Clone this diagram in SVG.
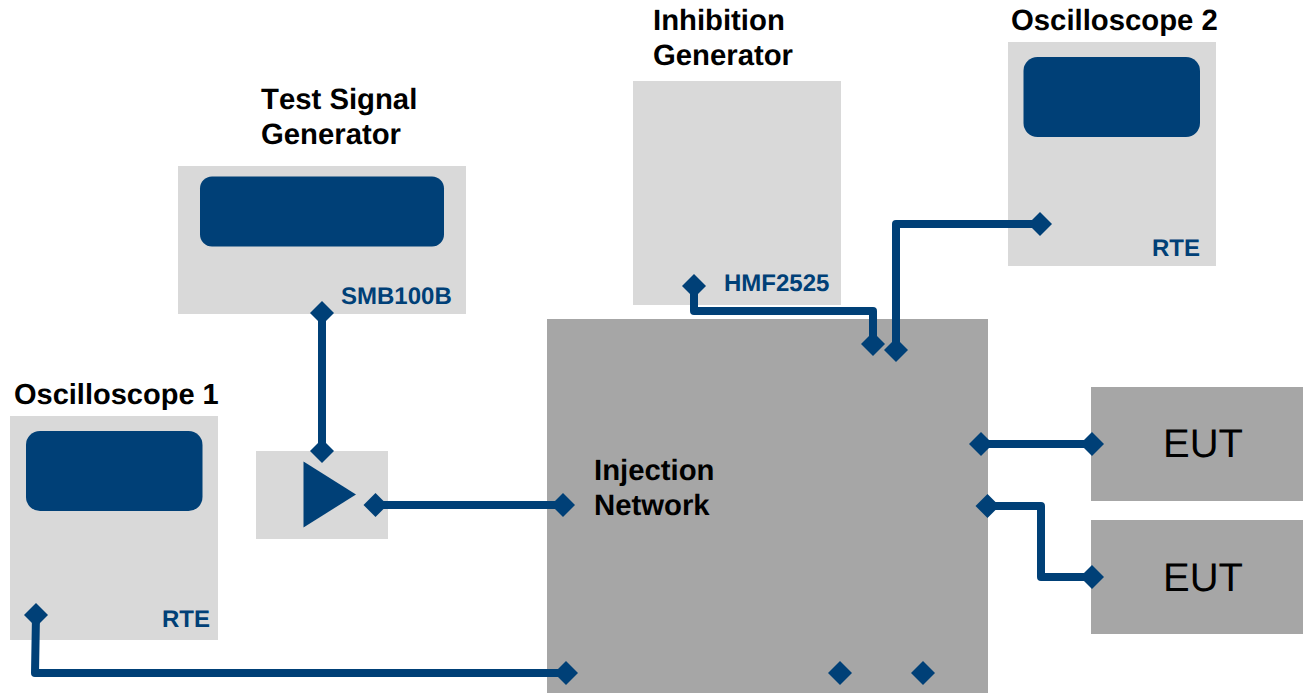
<svg xmlns="http://www.w3.org/2000/svg" width="1303" height="693" viewBox="0 0 1303 693">
<style>
.light{fill:#d9d9d9}
.mid{fill:#a6a6a6}
.blue{fill:#004077}
text{font-family:"Liberation Sans",Arial,sans-serif;text-rendering:geometricPrecision}
.title{font-size:29.300px;font-weight:700;fill:#000}
.model{font-size:24px;font-weight:700;fill:#004077}
.eut{font-size:40px;fill:#000}
.wire{fill:none;stroke:#004077;stroke-width:8px;stroke-linejoin:round;stroke-linecap:butt}
</style>
<defs>
<path id="d" class="blue" d="M0-12L12 0L0 12L-12 0Z"/>
</defs>
<rect width="1303" height="693" fill="#fff"/>
<g id="test-signal-generator">
<rect class="light" x="178" y="166" width="288" height="148"/>
<rect class="blue" x="200" y="176.500" width="244" height="70" rx="12"/>
<text class="title" x="261" y="109" style="font-kerning:none">Test Signal</text>
<text class="title" x="261" y="144">Generator</text>
<text class="model" x="341" y="304">SMB100B</text>
</g>
<g id="inhibition-generator">
<rect class="light" x="633" y="81" width="208" height="224"/>
<text class="title" x="653" y="30">Inhibition</text>
<text class="title" x="653" y="65">Generator</text>
<text class="model" x="724" y="291">HMF2525</text>
</g>
<g id="oscilloscope-2">
<rect class="light" x="1008" y="42" width="208" height="224"/>
<rect class="blue" x="1023.500" y="57" width="176.500" height="80" rx="14"/>
<text class="title" x="1011" y="30">Oscilloscope 2</text>
<text class="model" x="1152" y="256">RTE</text>
</g>
<g id="oscilloscope-1">
<rect class="light" x="10" y="416" width="208" height="224"/>
<rect class="blue" x="26" y="431" width="176.500" height="80" rx="14"/>
<text class="title" x="14" y="404" style="font-size:29px">Oscilloscope 1</text>
<text class="model" x="162" y="627">RTE</text>
</g>
<g id="amplifier">
<rect class="light" x="256" y="451" width="132" height="88"/>
<path class="blue" d="M303.500 461.500L356 494.500L303.500 527.500Z"/>
</g>
<g id="injection-network">
<rect class="mid" x="547" y="319" width="441" height="374"/>
<text class="title" x="594" y="480">Injection</text>
<text class="title" x="594" y="515">Network</text>
</g>
<g id="eut-1">
<rect class="mid" x="1091" y="387" width="212" height="114"/>
<text class="eut" x="1163" y="457">EUT</text>
</g>
<g id="eut-2">
<rect class="mid" x="1091" y="520" width="212" height="114"/>
<text class="eut" x="1163" y="591">EUT</text>
</g>
<g id="connectors">
<path class="wire" d="M322 313V451"/>
<path class="wire" d="M375 505H563"/>
<path class="wire" d="M694 286V311H873V344"/>
<path class="wire" d="M1040 224H896V350"/>
<path class="wire" d="M980 444H1093"/>
<path class="wire" d="M987 506H1041V577H1093"/>
<path class="wire" d="M36 615L35 673H566"/>
<use href="#d" x="322" y="313"/>
<use href="#d" x="322" y="451"/>
<use href="#d" x="375.500" y="505"/>
<use href="#d" x="563" y="505"/>
<use href="#d" x="694" y="286"/>
<use href="#d" x="873" y="344"/>
<use href="#d" x="896" y="350"/>
<use href="#d" x="1040" y="224"/>
<use href="#d" x="981" y="444"/>
<use href="#d" x="1092" y="444"/>
<use href="#d" x="987.500" y="506"/>
<use href="#d" x="1092" y="577"/>
<use href="#d" x="36" y="615"/>
<use href="#d" x="566" y="673"/>
<use href="#d" x="840" y="673"/>
<use href="#d" x="923" y="673"/>
</g>
</svg>
